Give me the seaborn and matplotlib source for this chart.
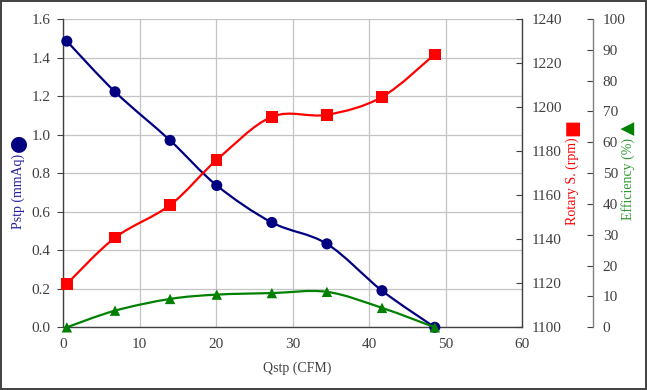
import matplotlib
matplotlib.use("Agg")
import matplotlib.pyplot as plt
import seaborn as sns
import numpy as np
import pandas as pd
from matplotlib.path import Path
from matplotlib.patches import PathPatch, Rectangle

# data
qstp = [0.5, 6.8, 14.0, 20.1, 27.3, 34.5, 41.7, 48.6]
pstp = [1.485, 1.222, 0.970, 0.736, 0.544, 0.433, 0.190, 0.0]
rpm = [1119.7, 1140.7, 1155.5, 1176.0, 1195.6, 1196.5, 1204.6, 1224.0]
eff = [0.0, 5.4, 9.2, 10.6, 11.1, 11.5, 6.3, 0.0]

x_ticks = [0, 10, 20, 30, 40, 50, 60]
p_ticks = [0.0, 0.2, 0.4, 0.6, 0.8, 1.0, 1.2, 1.4, 1.6]
rpm_ticks = [1100, 1120, 1140, 1160, 1180, 1200, 1220, 1240]
eff_ticks = [0, 10, 20, 30, 40, 50, 60, 70, 80, 90, 100]

df = pd.DataFrame({"qstp": qstp, "pstp": pstp, "rpm": rpm, "eff": eff})

NAVY = "#000080"
RED = "#ff0000"
GREEN = "#008000"
DARK = "#404040"

sns.set_style("white")
plt.rcParams["font.family"] = ["Liberation Serif", "DejaVu Sans"]


def smooth_line(ax, x, y, color):
    # Excel-style smoothed line (Catmull-Rom as cubic Bezier) through the points
    p = np.column_stack([x, y]).astype(float)
    ext = np.vstack([p[0], p, p[-1]])
    verts = [p[0]]
    codes = [Path.MOVETO]
    for i in range(len(p) - 1):
        c1 = ext[i + 1] + (ext[i + 2] - ext[i]) / 6.0
        c2 = ext[i + 2] - (ext[i + 3] - ext[i + 1]) / 6.0
        verts += [c1, c2, ext[i + 2]]
        codes += [Path.CURVE4] * 3
    ax.add_patch(PathPatch(Path(verts, codes), fill=False, edgecolor=color,
                           lw=1.6, clip_on=False, capstyle="round"))


fig = plt.figure(figsize=(6.47, 3.90), dpi=100)
ax = fig.add_axes([63 / 647, 1 - 327.3 / 390, 459 / 647, 308.3 / 390])
ax2 = ax.twinx()
ax3 = ax.twinx()

# pressure (left axis)
smooth_line(ax, qstp, pstp, NAVY)
sns.scatterplot(data=df, x="qstp", y="pstp", ax=ax, color=NAVY, marker="o",
                s=64, edgecolor="none", clip_on=False, zorder=3)
ax.set_xlim(0, 60)
ax.set_ylim(0, 1.6)
ax.set_xticks(x_ticks)
ax.set_yticks(p_ticks)
ax.set_yticklabels([f"{v:.1f}" for v in p_ticks])
ax.grid(True, color="#c4c4c4", lw=0.9)
ax.set_axisbelow(True)
for s in ["top", "right"]:
    ax.spines[s].set_visible(False)
for s in ["left", "bottom"]:
    ax.spines[s].set_color(DARK)
    ax.spines[s].set_linewidth(1.0)
ax.tick_params(axis="y", direction="out", length=4, width=0.8, color=DARK,
               pad=5, labelsize=11, labelcolor=DARK)
ax.tick_params(axis="x", length=0, pad=8, labelsize=11, labelcolor=DARK)
ax.set_xlabel("Qstp (CFM)", fontsize=10, color=DARK, va="center")
ax.xaxis.set_label_coords((297 - 63) / 459, (327.3 - 368) / 308.3)
ax.set_ylabel("")

# rotary speed (first right axis)
smooth_line(ax2, qstp, rpm, RED)
sns.scatterplot(data=df, x="qstp", y="rpm", ax=ax2, color=RED, marker="s",
                s=68, edgecolor="none", clip_on=False, zorder=3)
ax2.set_ylim(1100, 1240)
ax2.set_yticks(rpm_ticks)
ax2.set_ylabel("")
for s in ["top", "left", "bottom"]:
    ax2.spines[s].set_visible(False)
ax2.spines["right"].set_color(DARK)
ax2.spines["right"].set_linewidth(1.0)
ax2.tick_params(axis="y", direction="in", length=4, width=0.8, color=DARK,
                pad=7, labelsize=11, labelcolor=DARK)

# efficiency (second right axis), spine 71 px right of the plot area
smooth_line(ax3, qstp, eff, GREEN)
sns.scatterplot(data=df, x="qstp", y="eff", ax=ax3, color=GREEN, marker="^",
                s=56, edgecolor="none", clip_on=False, zorder=3)
ax3.set_ylim(0, 100)
ax3.set_yticks(eff_ticks)
ax3.set_ylabel("")
ax3.spines["right"].set_position(("outward", 71 * 72 / 100))
for s in ["top", "left", "bottom"]:
    ax3.spines[s].set_visible(False)
ax3.spines["right"].set_color("#808080")
ax3.spines["right"].set_linewidth(1.0)
ax3.tick_params(axis="y", direction="in", length=4, width=0.8, color=DARK,
                pad=7, labelsize=11, labelcolor=DARK)

# axis titles with their marker symbols
sym = ["DejaVu Sans"]
fig.text(18 / 647, 1 - 191 / 390, "Pstp (mmAq)", rotation=90, fontsize=10,
         color="#2020a0", ha="center", va="center")
fig.text(18 / 647, 1 - 143 / 390, "\u25cf", rotation=90, fontsize=15,
         color=NAVY, ha="center", va="center", family=sym)
fig.text(572 / 647, 1 - 181 / 390, "Rotary S. (rpm)", rotation=90, fontsize=10,
         color=RED, ha="center", va="center")
fig.text(572 / 647, 1 - 127 / 390, "\u25a0", rotation=90, fontsize=13,
         color=RED, ha="center", va="center", family=sym)
fig.text(628 / 647, 1 - 179 / 390, "Efficiency (%)", rotation=90, fontsize=10,
         color="#2e9a2e", ha="center", va="center")
fig.text(628 / 647, 1 - 128 / 390, "\u25b2", rotation=90, fontsize=13,
         color=GREEN, ha="center", va="center", family=sym)

# outer chart frame
fig.patches.append(Rectangle((0.001, 0.002), 0.997, 0.996, transform=fig.transFigure,
                             fill=False, edgecolor=DARK, lw=1.4))

fig.savefig("out.png", dpi=100)
